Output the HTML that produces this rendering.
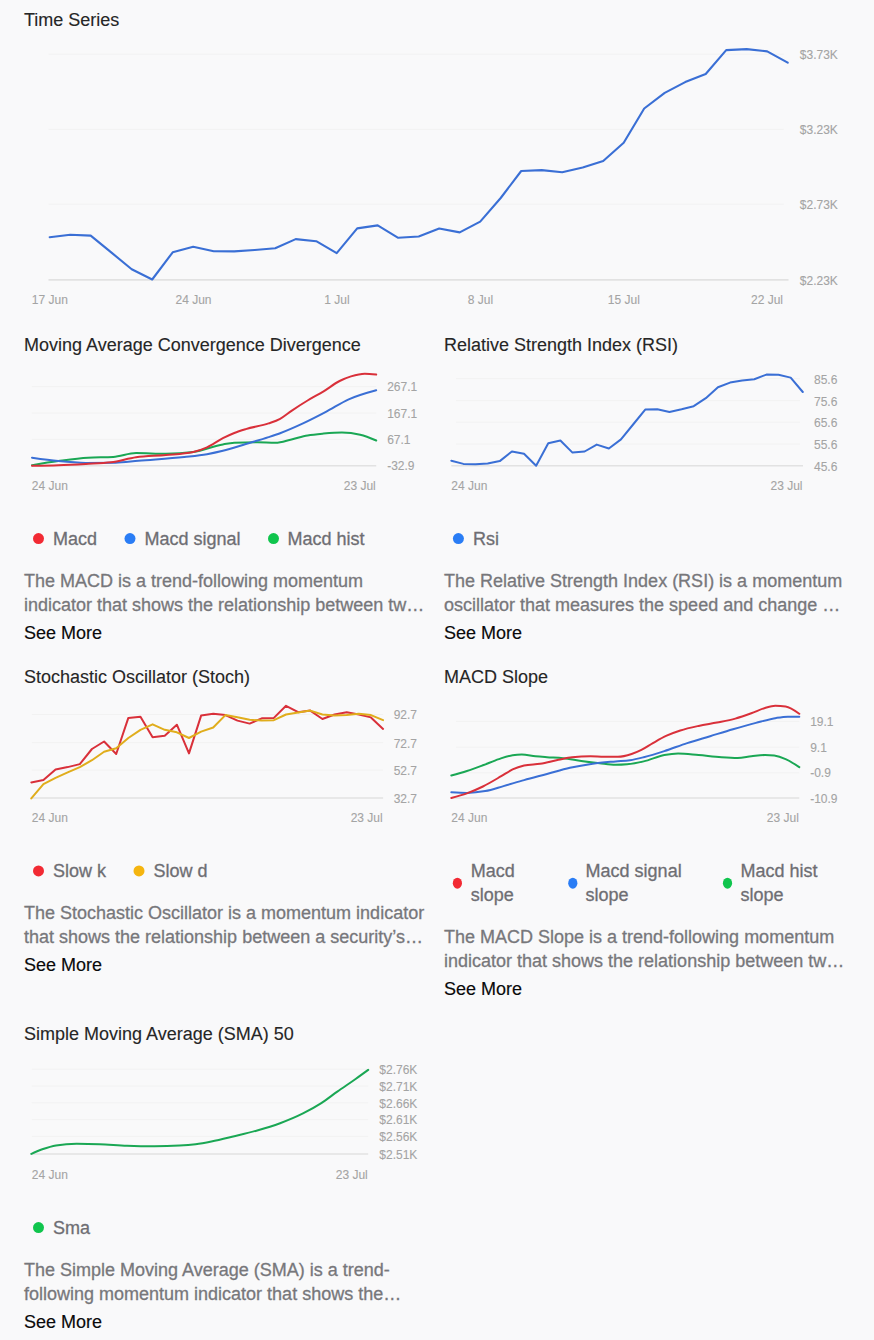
<!DOCTYPE html>
<html><head><meta charset="utf-8"><title>Indicators</title>
<style>
html,body{margin:0;padding:0;background:#f9f9fa;width:874px;height:1340px;overflow:hidden}
svg{position:absolute;left:0;top:0;font-family:"Liberation Sans",sans-serif}
</style></head>
<body>
<svg width="874" height="1340" viewBox="0 0 874 1340">
<text x="24" y="25.6" font-size="18" fill="#262626" text-anchor="start" stroke="#262626" stroke-width="0.12">Time Series</text>
<path d="M48.5,54.2 H783.8" stroke="#f2f2f2" stroke-width="1"/>
<path d="M48.5,129.3 H783.8" stroke="#f2f2f2" stroke-width="1"/>
<path d="M48.5,204.2 H783.8" stroke="#f2f2f2" stroke-width="1"/>
<path d="M48.5,279.9 H788.5" stroke="#e2e2e2" stroke-width="1.8"/>
<text x="799.8" y="59.2" font-size="12" fill="#a4a4a4" text-anchor="start" stroke="#a4a4a4" stroke-width="0.1">$3.73K</text>
<text x="799.8" y="134.3" font-size="12" fill="#a4a4a4" text-anchor="start" stroke="#a4a4a4" stroke-width="0.1">$3.23K</text>
<text x="799.8" y="209.2" font-size="12" fill="#a4a4a4" text-anchor="start" stroke="#a4a4a4" stroke-width="0.1">$2.73K</text>
<text x="799.8" y="284.9" font-size="12" fill="#a4a4a4" text-anchor="start" stroke="#a4a4a4" stroke-width="0.1">$2.23K</text>
<text x="49.8" y="303.7" font-size="12" fill="#a4a4a4" text-anchor="middle" stroke="#a4a4a4" stroke-width="0.1">17 Jun</text>
<text x="193.5" y="303.7" font-size="12" fill="#a4a4a4" text-anchor="middle" stroke="#a4a4a4" stroke-width="0.1">24 Jun</text>
<text x="337" y="303.7" font-size="12" fill="#a4a4a4" text-anchor="middle" stroke="#a4a4a4" stroke-width="0.1">1 Jul</text>
<text x="480.5" y="303.7" font-size="12" fill="#a4a4a4" text-anchor="middle" stroke="#a4a4a4" stroke-width="0.1">8 Jul</text>
<text x="623.8" y="303.7" font-size="12" fill="#a4a4a4" text-anchor="middle" stroke="#a4a4a4" stroke-width="0.1">15 Jul</text>
<text x="767" y="303.7" font-size="12" fill="#a4a4a4" text-anchor="middle" stroke="#a4a4a4" stroke-width="0.1">22 Jul</text>
<path d="M49.7,237.2 L70.2,234.7 L90.7,235.6 L111.2,252.4 L131.7,269.2 L152.2,279.5 L172.7,252.3 L193.2,246.8 L213.7,251.2 L234.2,251.4 L254.7,250 L275.2,248.3 L295.7,239.1 L316.2,241.2 L336.7,253.1 L357.2,228.4 L377.7,225.4 L398.2,237.8 L418.7,236.5 L439.2,228.5 L459.7,232.4 L480.2,221.6 L500.7,198 L521.2,171 L541.7,170.1 L562.2,172.2 L582.7,167.6 L603.2,161 L623.7,142.7 L644.2,108.5 L664.7,92.9 L685.2,82.1 L705.7,74 L726.2,50.1 L746.7,49.1 L767.2,51.4 L787.7,62.7" stroke="#3a6fd5" stroke-width="2.1" fill="none" stroke-linejoin="round" stroke-linecap="round"/>
<text x="24" y="350.6" font-size="18" fill="#262626" text-anchor="start" stroke="#262626" stroke-width="0.12">Moving Average Convergence Divergence</text>
<path d="M31.8,386.7 H376.2" stroke="#f2f2f2" stroke-width="1"/>
<path d="M31.8,413 H376.2" stroke="#f2f2f2" stroke-width="1"/>
<path d="M31.8,439.3 H376.2" stroke="#f2f2f2" stroke-width="1"/>
<path d="M31.8,465.7 H376.2" stroke="#e2e2e2" stroke-width="1.5"/>
<text x="387.2" y="391.3" font-size="12" fill="#a4a4a4" text-anchor="start" stroke="#a4a4a4" stroke-width="0.1">267.1</text>
<text x="387.2" y="417.6" font-size="12" fill="#a4a4a4" text-anchor="start" stroke="#a4a4a4" stroke-width="0.1">167.1</text>
<text x="387.2" y="443.9" font-size="12" fill="#a4a4a4" text-anchor="start" stroke="#a4a4a4" stroke-width="0.1">67.1</text>
<text x="387.2" y="470.3" font-size="12" fill="#a4a4a4" text-anchor="start" stroke="#a4a4a4" stroke-width="0.1">-32.9</text>
<text x="31.8" y="489.7" font-size="12" fill="#a4a4a4" text-anchor="start" stroke="#a4a4a4" stroke-width="0.1">24 Jun</text>
<text x="375.8" y="489.7" font-size="12" fill="#a4a4a4" text-anchor="end" stroke="#a4a4a4" stroke-width="0.1">23 Jul</text>
<path d="M32,465.2 C40.77,463.75 49.53,462.3 58.3,461.1 C68.2,459.75 78.1,458.25 88,457.7 C96.4,457.23 104.8,457.47 113.2,457 C120.83,456.58 128.47,453.1 136.1,453.1 C146.03,453.1 155.97,453.8 165.9,453.8 C175.03,453.8 184.17,453.2 193.3,452 C203.17,450.7 213.03,446.1 222.9,444.4 C226.7,443.74 230.5,442.97 234.3,442.8 C241.93,442.47 249.57,442.3 257.2,442.3 C263.3,442.3 269.4,442.8 275.5,442.8 C280.83,442.8 286.17,440.61 291.5,439.4 C296.87,438.18 302.23,436.47 307.6,435.5 C312.93,434.54 318.27,434.09 323.6,433.6 C329.7,433.04 335.8,432.5 341.9,432.5 C348,432.5 354.1,433.28 360.2,434.8 C365.53,436.13 370.87,438.31 376.2,440.5" stroke="#1aa754" stroke-width="2" fill="none" stroke-linejoin="round" stroke-linecap="round"/>
<path d="M32,457.7 C40.77,458.97 49.53,460.24 58.3,461.1 C67.47,462 76.63,462.9 85.8,462.9 C95.7,462.9 105.6,462.83 115.5,462.7 C123.13,462.6 130.77,461.35 138.4,460.7 C153.67,459.4 168.93,458.66 184.2,457 C191.8,456.17 199.4,455.54 207,454.2 C212.3,453.26 217.6,452.11 222.9,450.8 C230.53,448.91 238.17,446.29 245.8,444 C253.4,441.72 261,439.58 268.6,437.1 C272.43,435.85 276.27,434.61 280.1,433.2 C287.73,430.38 295.37,426.95 303,423.4 C310.63,419.85 318.27,415.93 325.9,411.9 C333.5,407.89 341.1,402.74 348.7,399.3 C357.87,395.16 367.03,392.68 376.2,390.2" stroke="#3a6fd5" stroke-width="2" fill="none" stroke-linejoin="round" stroke-linecap="round"/>
<path d="M32,465.7 C40.77,465.59 49.53,465.49 58.3,465.2 C67.47,464.9 76.63,464.41 85.8,463.9 C94.2,463.43 102.6,463.37 111,462.3 C119.37,461.24 127.73,458.41 136.1,457.2 C146.03,455.77 155.97,455.92 165.9,455 C175.03,454.16 184.17,454 193.3,452 C197.87,451 202.43,449.45 207,447.4 C212.3,445.02 217.6,440.89 222.9,438.2 C226.7,436.27 230.5,434.51 234.3,433 C238.13,431.47 241.97,430.29 245.8,429.1 C253.4,426.75 261,426.06 268.6,423.4 C272.43,422.06 276.27,420.91 280.1,418.8 C283.9,416.7 287.7,413.37 291.5,410.8 C296.87,407.17 302.23,403.76 307.6,400.5 C312.93,397.26 318.27,394.55 323.6,391.3 C328.93,388.05 334.27,383.69 339.6,381 C343.4,379.09 347.2,377.58 351,376.4 C355.6,374.98 360.2,373.7 364.8,373.7 C368.6,373.7 372.4,374.15 376.2,374.6" stroke="#d9303a" stroke-width="2" fill="none" stroke-linejoin="round" stroke-linecap="round"/>
<ellipse cx="38.5" cy="538.6" rx="5.5" ry="5.5" fill="#f22a33"/>
<text x="52.9" y="544.9" font-size="18" fill="#6e6e73" text-anchor="start" stroke="#6e6e73" stroke-width="0.3">Macd</text>
<ellipse cx="130" cy="538.6" rx="5.5" ry="5.5" fill="#2a7df5"/>
<text x="144.5" y="544.9" font-size="18" fill="#6e6e73" text-anchor="start" stroke="#6e6e73" stroke-width="0.3">Macd signal</text>
<ellipse cx="273.5" cy="538.6" rx="5.5" ry="5.5" fill="#10c54d"/>
<text x="287.4" y="544.9" font-size="18" fill="#6e6e73" text-anchor="start" stroke="#6e6e73" stroke-width="0.3">Macd hist</text>
<text x="24" y="587.1" font-size="18" fill="#77777b" text-anchor="start" stroke="#77777b" stroke-width="0.3">The MACD is a trend-following momentum</text>
<text x="24" y="611.1" font-size="18" fill="#77777b" text-anchor="start" stroke="#77777b" stroke-width="0.3">indicator that shows the relationship between tw…</text>
<text x="24" y="638.9" font-size="18" fill="#0a0a0a" text-anchor="start" stroke="#0a0a0a" stroke-width="0.15">See More</text>
<text x="444" y="350.6" font-size="18" fill="#262626" text-anchor="start" stroke="#262626" stroke-width="0.12">Relative Strength Index (RSI)</text>
<path d="M456,378.7 H800" stroke="#f2f2f2" stroke-width="1"/>
<path d="M456,400.7 H800" stroke="#f2f2f2" stroke-width="1"/>
<path d="M456,422.2 H800" stroke="#f2f2f2" stroke-width="1"/>
<path d="M456,444 H800" stroke="#f2f2f2" stroke-width="1"/>
<path d="M451.3,465.7 H803" stroke="#e2e2e2" stroke-width="1.5"/>
<text x="814" y="383.5" font-size="12" fill="#a4a4a4" text-anchor="start" stroke="#a4a4a4" stroke-width="0.1">85.6</text>
<text x="814" y="405.5" font-size="12" fill="#a4a4a4" text-anchor="start" stroke="#a4a4a4" stroke-width="0.1">75.6</text>
<text x="814" y="427" font-size="12" fill="#a4a4a4" text-anchor="start" stroke="#a4a4a4" stroke-width="0.1">65.6</text>
<text x="814" y="448.8" font-size="12" fill="#a4a4a4" text-anchor="start" stroke="#a4a4a4" stroke-width="0.1">55.6</text>
<text x="814" y="470.5" font-size="12" fill="#a4a4a4" text-anchor="start" stroke="#a4a4a4" stroke-width="0.1">45.6</text>
<text x="451.3" y="489.7" font-size="12" fill="#a4a4a4" text-anchor="start" stroke="#a4a4a4" stroke-width="0.1">24 Jun</text>
<text x="802.5" y="489.7" font-size="12" fill="#a4a4a4" text-anchor="end" stroke="#a4a4a4" stroke-width="0.1">23 Jul</text>
<path d="M451.3,460.7 L463.42,463.9 L475.54,464.3 L487.66,463.5 L499.78,461.1 L511.9,451.5 L524.02,453.8 L536.14,465.7 L548.26,443.3 L560.38,440.5 L572.5,452.6 L584.62,451.5 L596.74,444.6 L608.86,448.5 L620.98,439.4 L633.1,424.5 L645.22,409.6 L657.34,409.2 L669.46,411.9 L681.58,409.2 L693.7,406.2 L705.82,398.2 L717.94,387.2 L730.06,382.6 L742.18,380.6 L754.3,379.2 L766.42,374.6 L778.54,374.8 L790.66,377.6 L802.78,392" stroke="#3a6fd5" stroke-width="2" fill="none" stroke-linejoin="round" stroke-linecap="round"/>
<ellipse cx="458.4" cy="538.6" rx="5.5" ry="5.5" fill="#2a7df5"/>
<text x="473.1" y="544.9" font-size="18" fill="#6e6e73" text-anchor="start" stroke="#6e6e73" stroke-width="0.3">Rsi</text>
<text x="444" y="587.1" font-size="18" fill="#77777b" text-anchor="start" stroke="#77777b" stroke-width="0.3">The Relative Strength Index (RSI) is a momentum</text>
<text x="444" y="611.1" font-size="18" fill="#77777b" text-anchor="start" stroke="#77777b" stroke-width="0.3">oscillator that measures the speed and change …</text>
<text x="444" y="638.9" font-size="18" fill="#0a0a0a" text-anchor="start" stroke="#0a0a0a" stroke-width="0.15">See More</text>
<text x="24" y="682.9" font-size="18" fill="#262626" text-anchor="start" stroke="#262626" stroke-width="0.12">Stochastic Oscillator (Stoch)</text>
<path d="M31.8,714.5 H383.1" stroke="#f2f2f2" stroke-width="1"/>
<path d="M31.8,742.6 H383.1" stroke="#f2f2f2" stroke-width="1"/>
<path d="M31.8,770.1 H383.1" stroke="#f2f2f2" stroke-width="1"/>
<path d="M31.3,798 H383.1" stroke="#e2e2e2" stroke-width="1.5"/>
<text x="393.7" y="719.4" font-size="12" fill="#a4a4a4" text-anchor="start" stroke="#a4a4a4" stroke-width="0.1">92.7</text>
<text x="393.7" y="747.5" font-size="12" fill="#a4a4a4" text-anchor="start" stroke="#a4a4a4" stroke-width="0.1">72.7</text>
<text x="393.7" y="775" font-size="12" fill="#a4a4a4" text-anchor="start" stroke="#a4a4a4" stroke-width="0.1">52.7</text>
<text x="393.7" y="802.9" font-size="12" fill="#a4a4a4" text-anchor="start" stroke="#a4a4a4" stroke-width="0.1">32.7</text>
<text x="31.8" y="822" font-size="12" fill="#a4a4a4" text-anchor="start" stroke="#a4a4a4" stroke-width="0.1">24 Jun</text>
<text x="382.7" y="822" font-size="12" fill="#a4a4a4" text-anchor="end" stroke="#a4a4a4" stroke-width="0.1">23 Jul</text>
<path d="M31.3,782.4 L43.43,780.1 L55.56,769.4 L67.69,767.1 L79.82,764.1 L91.95,749 L104.08,741.5 L116.21,754 L128.34,717.9 L140.47,716.7 L152.6,737.3 L164.73,735.7 L176.86,724.7 L188.99,753.4 L201.12,715.6 L213.25,713.8 L225.38,715.1 L237.51,720.6 L249.64,723.6 L261.77,718.3 L273.9,717.9 L286.03,705.8 L298.16,712.2 L310.29,710.6 L322.42,719 L334.55,714.5 L346.68,712.2 L358.81,714.5 L370.94,717.4 L383.07,728.9" stroke="#d9303a" stroke-width="2" fill="none" stroke-linejoin="round" stroke-linecap="round"/>
<path d="M31.3,798.4 L43.43,784.2 L55.56,777.8 L67.69,772.3 L79.82,767.1 L91.95,760.2 L104.08,751.8 L116.21,748.3 L128.34,738 L140.47,729.8 L152.6,724.3 L164.73,729.8 L176.86,732.3 L188.99,738 L201.12,731.6 L213.25,727.5 L225.38,715.1 L237.51,717.2 L249.64,719.7 L261.77,720.6 L273.9,720.2 L286.03,714.5 L298.16,712.6 L310.29,710.6 L322.42,714.5 L334.55,715.6 L346.68,715.1 L358.81,713.8 L370.94,715.1 L383.07,720.2" stroke="#e0ad1c" stroke-width="2" fill="none" stroke-linejoin="round" stroke-linecap="round"/>
<ellipse cx="38.5" cy="870.9" rx="5.5" ry="5.5" fill="#f22a33"/>
<text x="53.1" y="877.2" font-size="18" fill="#6e6e73" text-anchor="start" stroke="#6e6e73" stroke-width="0.3">Slow k</text>
<ellipse cx="139" cy="870.9" rx="5.5" ry="5.5" fill="#f5b50f"/>
<text x="153.5" y="877.2" font-size="18" fill="#6e6e73" text-anchor="start" stroke="#6e6e73" stroke-width="0.3">Slow d</text>
<text x="24" y="919.4" font-size="18" fill="#77777b" text-anchor="start" stroke="#77777b" stroke-width="0.3">The Stochastic Oscillator is a momentum indicator</text>
<text x="24" y="943.4" font-size="18" fill="#77777b" text-anchor="start" stroke="#77777b" stroke-width="0.3">that shows the relationship between a security’s…</text>
<text x="24" y="971.2" font-size="18" fill="#0a0a0a" text-anchor="start" stroke="#0a0a0a" stroke-width="0.15">See More</text>
<text x="444" y="682.9" font-size="18" fill="#262626" text-anchor="start" stroke="#262626" stroke-width="0.12">MACD Slope</text>
<path d="M456,721.3 H799.3" stroke="#f2f2f2" stroke-width="1"/>
<path d="M456,747.2 H799.3" stroke="#f2f2f2" stroke-width="1"/>
<path d="M456,772.8 H799.3" stroke="#f2f2f2" stroke-width="1"/>
<path d="M451.3,798 H799.3" stroke="#e2e2e2" stroke-width="1.5"/>
<text x="810.2" y="725.9" font-size="12" fill="#a4a4a4" text-anchor="start" stroke="#a4a4a4" stroke-width="0.1">19.1</text>
<text x="810.2" y="751.8" font-size="12" fill="#a4a4a4" text-anchor="start" stroke="#a4a4a4" stroke-width="0.1">9.1</text>
<text x="810.2" y="777.4" font-size="12" fill="#a4a4a4" text-anchor="start" stroke="#a4a4a4" stroke-width="0.1">-0.9</text>
<text x="810.2" y="802.6" font-size="12" fill="#a4a4a4" text-anchor="start" stroke="#a4a4a4" stroke-width="0.1">-10.9</text>
<text x="451.3" y="822" font-size="12" fill="#a4a4a4" text-anchor="start" stroke="#a4a4a4" stroke-width="0.1">24 Jun</text>
<text x="798.9" y="822" font-size="12" fill="#a4a4a4" text-anchor="end" stroke="#a4a4a4" stroke-width="0.1">23 Jul</text>
<path d="M451.3,775.5 C456.5,774.09 461.7,772.67 466.9,771 C472.23,769.28 477.57,767.28 482.9,765.3 C488.23,763.32 493.57,760.87 498.9,759.1 C503.47,757.58 508.03,755.89 512.6,755.2 C515.67,754.73 518.73,754.5 521.8,754.5 C526.37,754.5 530.93,755.83 535.5,756.3 C539.33,756.69 543.17,756.93 547,757.2 C552.33,757.58 557.67,757.66 563,758.2 C569.1,758.82 575.2,760.07 581.3,760.9 C587.4,761.73 593.5,762.52 599.6,763.2 C604.93,763.8 610.27,764.8 615.6,764.8 C619.43,764.8 623.27,764.63 627.1,764.3 C632.63,763.82 638.17,762.7 643.7,761.4 C650.57,759.78 657.43,756.33 664.3,755 C668.9,754.11 673.5,753.4 678.1,753.4 C684.93,753.4 691.77,754.41 698.6,755 C706.23,755.66 713.87,756.7 721.5,757.2 C726.87,757.55 732.23,757.9 737.6,757.9 C742.17,757.9 746.73,756.78 751.3,756.3 C755.87,755.82 760.43,755 765,755 C768.07,755 771.13,755.2 774.2,755.6 C778,756.1 781.8,757.46 785.6,759.1 C790.17,761.08 794.73,764.09 799.3,767.1" stroke="#1aa754" stroke-width="2" fill="none" stroke-linejoin="round" stroke-linecap="round"/>
<path d="M451.3,792.3 C456.5,792.6 461.7,792.9 466.9,792.9 C473,792.9 479.1,792.23 485.2,791.1 C491.3,789.97 497.4,787.82 503.5,786.1 C510.37,784.17 517.23,782.02 524.1,780.1 C531.73,777.97 539.37,776.05 547,774 C554.63,771.95 562.27,769.52 569.9,767.8 C577.5,766.09 585.1,764.77 592.7,763.7 C600.33,762.63 607.97,762.09 615.6,761.4 C620.4,760.97 625.2,760.93 630,760.2 C634.57,759.5 639.13,758.34 643.7,757.2 C650.57,755.48 657.43,753.31 664.3,751.1 C671.93,748.65 679.57,745.58 687.2,743.1 C694.83,740.62 702.47,738.5 710.1,736.2 C717.73,733.9 725.37,731.52 733,729.3 C740.63,727.08 748.27,724.89 755.9,722.9 C762.77,721.11 769.63,718.96 776.5,717.9 C780.3,717.31 784.1,716.7 787.9,716.7 C791.7,716.7 795.5,716.7 799.3,716.7" stroke="#3a6fd5" stroke-width="2" fill="none" stroke-linejoin="round" stroke-linecap="round"/>
<path d="M451.3,798 C456.5,796.64 461.7,795.28 466.9,793.4 C472.23,791.47 477.57,789.13 482.9,786.5 C489,783.49 495.1,779.76 501.2,776.2 C505,773.98 508.8,771.18 512.6,769.4 C516.43,767.6 520.27,766.36 524.1,765.5 C529.43,764.3 534.77,764.55 540.1,763.7 C546.2,762.73 552.3,761.02 558.4,759.8 C562.97,758.89 567.53,757.65 572.1,757.2 C578.23,756.6 584.37,756.3 590.5,756.3 C595.07,756.3 599.63,756.8 604.2,756.8 C608.77,756.8 613.33,756.8 617.9,756.8 C622.47,756.8 627.03,755.5 631.6,754 C634.87,752.92 638.13,751.53 641.4,749.9 C645.23,747.99 649.07,745.28 652.9,743.1 C657.47,740.51 662.03,737.8 666.6,735.7 C671.17,733.6 675.73,731.98 680.3,730.5 C686.4,728.52 692.5,727.23 698.6,725.9 C704.73,724.56 710.87,723.72 717,722.5 C723.1,721.29 729.2,720.28 735.3,718.6 C740.63,717.13 745.97,715.23 751.3,713.3 C755.87,711.65 760.43,709.31 765,708 C768.43,707.01 771.87,705.8 775.3,705.8 C778.73,705.8 782.17,706 785.6,706.4 C790.17,706.93 794.73,710.37 799.3,713.8" stroke="#d9303a" stroke-width="2" fill="none" stroke-linejoin="round" stroke-linecap="round"/>
<ellipse cx="457.4" cy="883.2" rx="4.6" ry="5.5" fill="#f22a33"/>
<text x="470.8" y="877.2" font-size="18" fill="#6e6e73" text-anchor="start" stroke="#6e6e73" stroke-width="0.3">Macd</text>
<text x="470.8" y="901.2" font-size="18" fill="#6e6e73" text-anchor="start" stroke="#6e6e73" stroke-width="0.3">slope</text>
<ellipse cx="572.8" cy="883.2" rx="4.6" ry="5.5" fill="#2a7df5"/>
<text x="585.6" y="877.2" font-size="18" fill="#6e6e73" text-anchor="start" stroke="#6e6e73" stroke-width="0.3">Macd signal</text>
<text x="585.6" y="901.2" font-size="18" fill="#6e6e73" text-anchor="start" stroke="#6e6e73" stroke-width="0.3">slope</text>
<ellipse cx="727.5" cy="883.2" rx="4.6" ry="5.5" fill="#10c54d"/>
<text x="740.5" y="877.2" font-size="18" fill="#6e6e73" text-anchor="start" stroke="#6e6e73" stroke-width="0.3">Macd hist</text>
<text x="740.5" y="901.2" font-size="18" fill="#6e6e73" text-anchor="start" stroke="#6e6e73" stroke-width="0.3">slope</text>
<text x="444" y="943.4" font-size="18" fill="#77777b" text-anchor="start" stroke="#77777b" stroke-width="0.3">The MACD Slope is a trend-following momentum</text>
<text x="444" y="967.4" font-size="18" fill="#77777b" text-anchor="start" stroke="#77777b" stroke-width="0.3">indicator that shows the relationship between tw…</text>
<text x="444" y="995.2" font-size="18" fill="#0a0a0a" text-anchor="start" stroke="#0a0a0a" stroke-width="0.15">See More</text>
<text x="24" y="1039.6" font-size="18" fill="#262626" text-anchor="start" stroke="#262626" stroke-width="0.12">Simple Moving Average (SMA) 50</text>
<path d="M31.8,1069.2 H368.2" stroke="#f2f2f2" stroke-width="1"/>
<path d="M31.8,1086 H368.2" stroke="#f2f2f2" stroke-width="1"/>
<path d="M31.8,1102.8 H368.2" stroke="#f2f2f2" stroke-width="1"/>
<path d="M31.8,1119.6 H368.2" stroke="#f2f2f2" stroke-width="1"/>
<path d="M31.8,1136.4 H368.2" stroke="#f2f2f2" stroke-width="1"/>
<path d="M31.3,1153.9 H368.2" stroke="#e2e2e2" stroke-width="1.5"/>
<text x="379.3" y="1074" font-size="12" fill="#a4a4a4" text-anchor="start" stroke="#a4a4a4" stroke-width="0.1">$2.76K</text>
<text x="379.3" y="1090.8" font-size="12" fill="#a4a4a4" text-anchor="start" stroke="#a4a4a4" stroke-width="0.1">$2.71K</text>
<text x="379.3" y="1107.6" font-size="12" fill="#a4a4a4" text-anchor="start" stroke="#a4a4a4" stroke-width="0.1">$2.66K</text>
<text x="379.3" y="1124.4" font-size="12" fill="#a4a4a4" text-anchor="start" stroke="#a4a4a4" stroke-width="0.1">$2.61K</text>
<text x="379.3" y="1141.2" font-size="12" fill="#a4a4a4" text-anchor="start" stroke="#a4a4a4" stroke-width="0.1">$2.56K</text>
<text x="379.3" y="1158.7" font-size="12" fill="#a4a4a4" text-anchor="start" stroke="#a4a4a4" stroke-width="0.1">$2.51K</text>
<text x="31.8" y="1178.7" font-size="12" fill="#a4a4a4" text-anchor="start" stroke="#a4a4a4" stroke-width="0.1">24 Jun</text>
<text x="367.8" y="1178.7" font-size="12" fill="#a4a4a4" text-anchor="end" stroke="#a4a4a4" stroke-width="0.1">23 Jul</text>
<path d="M31.3,1153.9 C34.97,1152.26 38.63,1150.62 42.3,1149.3 C46.87,1147.66 51.43,1146.11 56,1145.4 C62.87,1144.33 69.73,1143.8 76.6,1143.8 C84.23,1143.8 91.87,1143.93 99.5,1144.2 C108.67,1144.52 117.83,1145.47 127,1145.8 C136.13,1146.13 145.27,1146.3 154.4,1146.3 C162.8,1146.3 171.2,1146.07 179.6,1145.6 C184.93,1145.3 190.27,1144.89 195.6,1144.2 C200.87,1143.52 206.13,1142.53 211.4,1141.5 C219.03,1140.01 226.67,1138.03 234.3,1136.2 C241.93,1134.37 249.57,1132.67 257.2,1130.5 C264.83,1128.33 272.47,1126.05 280.1,1123.2 C287.73,1120.35 295.37,1117.24 303,1113.4 C309.1,1110.33 315.2,1107.04 321.3,1103.1 C326.63,1099.65 331.97,1095.36 337.3,1091.6 C343.4,1087.3 349.5,1083.32 355.6,1079 C359.8,1076.02 364,1072.96 368.2,1069.9" stroke="#1aa754" stroke-width="2" fill="none" stroke-linejoin="round" stroke-linecap="round"/>
<ellipse cx="38.5" cy="1227.6" rx="5.5" ry="5.5" fill="#10c54d"/>
<text x="53.1" y="1233.9" font-size="18" fill="#6e6e73" text-anchor="start" stroke="#6e6e73" stroke-width="0.3">Sma</text>
<text x="24" y="1276.1" font-size="18" fill="#77777b" text-anchor="start" stroke="#77777b" stroke-width="0.3">The Simple Moving Average (SMA) is a trend-</text>
<text x="24" y="1300.1" font-size="18" fill="#77777b" text-anchor="start" stroke="#77777b" stroke-width="0.3">following momentum indicator that shows the…</text>
<text x="24" y="1327.9" font-size="18" fill="#0a0a0a" text-anchor="start" stroke="#0a0a0a" stroke-width="0.15">See More</text>
</svg>
</body></html>
